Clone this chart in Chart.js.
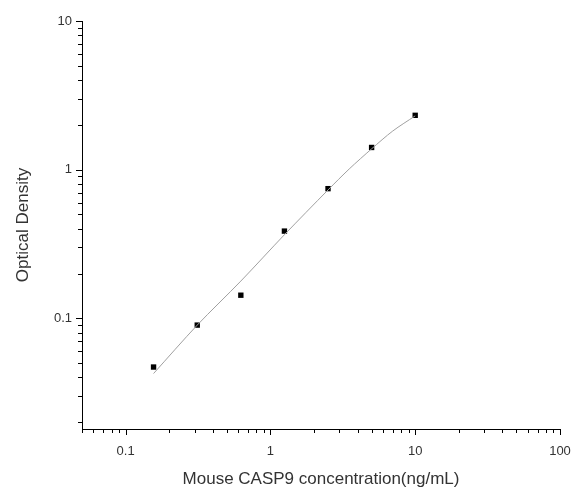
<!DOCTYPE html>
<html>
<head>
<meta charset="utf-8">
<script src="https://cdn.jsdelivr.net/npm/chart.js@4"></script>
<style>
  html, body { margin: 0; padding: 0; background: #fff; }
  canvas { display: block; }
</style>
</head>
<body>
<canvas id="odChart" width="571" height="490"></canvas>
<script>
// --- Standard curve data ---
const concentrations = [0.156, 0.3125, 0.625, 1.25, 2.5, 5, 10];
const odValues = [0.047, 0.090, 0.143, 0.386, 0.745, 1.41, 2.32];

// fitted curve, sampled off the drawn grey line
const fitX = [0.156, 0.3125, 0.625, 1.25, 2.5, 3.5, 5, 7, 10];
const fitY = [0.0425, 0.090, 0.178, 0.365, 0.73, 1.01, 1.38, 1.82, 2.3];

// axis decades that carry a label
const xDecades = [0.1, 1, 10, 100];
const yDecades = [0.1, 1, 10];

// minor tick values (1..9 per decade), clipped to the axis range
function logTicks(min, max) {
    const out = [];
    for (let e = Math.floor(Math.log10(min)); e <= Math.ceil(Math.log10(max)); e++) {
        for (let m = 1; m <= 9; m++) {
            const v = +(m * Math.pow(10, e)).toPrecision(6);
            if (v >= min * 0.999 && v <= max * 1.001) out.push(v);
        }
    }
    return out;
}
const isDecade = (list, v) => list.some(d => Math.abs(d - v) / d < 1e-6);

// --- draws outward tick marks: long on decades, short elsewhere ---
const tickMarks = {
    id: 'tickMarks',
    afterDraw(chart) {
        const ctx = chart.ctx;
        const xs = chart.scales.x, ys = chart.scales.y;
        ctx.save();
        ctx.strokeStyle = '#000';
        ctx.lineWidth = 1;
        ctx.beginPath();
        xs.ticks.forEach(t => {
            const px = Math.round(xs.getPixelForValue(t.value)) + 0.5;
            const len = isDecade(xDecades, t.value) ? 6 : 4;
            ctx.moveTo(px, xs.top);
            ctx.lineTo(px, xs.top + len);
        });
        ys.ticks.forEach(t => {
            const py = Math.round(ys.getPixelForValue(t.value)) + 0.5;
            const len = isDecade(yDecades, t.value) ? 6 : 4;
            ctx.moveTo(ys.right, py);
            ctx.lineTo(ys.right - len, py);
        });
        ctx.stroke();
        ctx.restore();
    }
};

const labelFont = { family: 'Arial, "Liberation Sans", sans-serif', size: 13 };
const titleFont = { family: 'Arial, "Liberation Sans", sans-serif', size: 17 };

new Chart(document.getElementById('odChart'), {
    type: 'scatter',
    data: {
        datasets: [
            {
                type: 'line',
                data: fitX.map((x, i) => ({ x: x, y: fitY[i] })),
                borderColor: '#a0a0a0',
                borderWidth: 1,
                pointRadius: 0,
                tension: 0.3,
                fill: false
            },
            {
                data: concentrations.map((x, i) => ({ x: x, y: odValues[i] })),
                pointStyle: 'rect',
                pointRadius: 3.8,
                backgroundColor: '#000',
                borderColor: '#000',
                borderWidth: 0
            }
        ]
    },
    options: {
        responsive: false,
        animation: false,
        devicePixelRatio: 1,
        layout: { padding: { top: 21, right: 11, left: 0, bottom: 0 } },
        plugins: { legend: { display: false }, tooltip: { enabled: false } },
        scales: {
            x: {
                type: 'logarithmic',
                min: 0.05, max: 100,
                afterBuildTicks: s => { s.ticks = logTicks(0.05, 100).map(v => ({ value: v })); },
                afterFit: s => { s.height = 61; s.paddingLeft = 0; s.paddingRight = 0; },
                grid: { display: false, drawTicks: false },
                border: { display: true, color: '#000', width: 1 },
                ticks: {
                    autoSkip: false, maxRotation: 0, padding: 15,
                    color: '#333', font: labelFont,
                    callback: v => isDecade(xDecades, v) ? String(v) : ''
                },
                title: {
                    display: true, text: 'Mouse CASP9 concentration(ng/mL)',
                    color: '#333', font: titleFont, padding: { top: 0, bottom: 0 }
                }
            },
            y: {
                type: 'logarithmic',
                min: 0.018, max: 10,
                afterBuildTicks: s => { s.ticks = logTicks(0.018, 10).map(v => ({ value: v })); },
                afterFit: s => { s.width = 82; },
                grid: { display: false, drawTicks: false },
                border: { display: true, color: '#000', width: 1 },
                ticks: {
                    autoSkip: false, padding: 10,
                    color: '#333', font: labelFont,
                    callback: v => isDecade(yDecades, v) ? String(v) : ''
                },
                title: {
                    display: true, text: 'Optical Density',
                    color: '#333', font: titleFont, padding: { top: 13, bottom: 0 }
                }
            }
        }
    },
    plugins: [tickMarks]
});
</script>
</body>
</html>
